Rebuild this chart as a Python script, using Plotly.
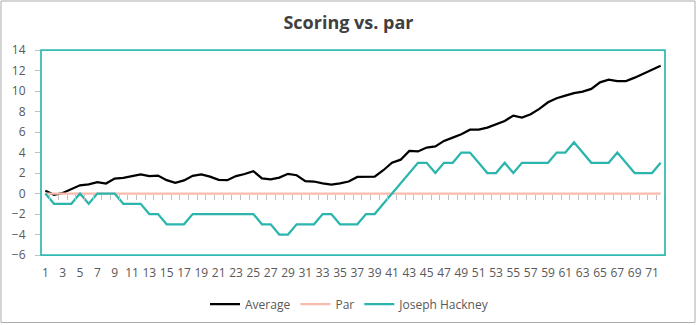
import plotly.graph_objects as go

holes = list(range(1, 73))
average = [0.26, -0.12, 0.05, 0.42, 0.8, 0.9, 1.1, 0.97, 1.45, 1.53,
           1.67, 1.87, 1.7, 1.75, 1.3, 1.05, 1.28, 1.72, 1.86, 1.65,
           1.33, 1.3, 1.7, 1.9, 2.18, 1.47, 1.38, 1.55, 1.92, 1.78,
           1.2, 1.17, 0.98, 0.87, 0.98, 1.17, 1.62, 1.65, 1.65, 2.27,
           3.0, 3.3, 4.15, 4.1, 4.48, 4.6, 5.13, 5.45, 5.78, 6.23,
           6.23, 6.43, 6.75, 7.08, 7.6, 7.4, 7.73, 8.25, 8.9, 9.29,
           9.55, 9.8, 9.94, 10.2, 10.84, 11.1, 10.97, 10.97, 11.3, 11.7,
           12.14, 12.47]
par = [0] * 72
joseph = [0, -1, -1, -1, 0, -1, 0, 0, 0, -1,
          -1, -1, -2, -2, -3, -3, -3, -2, -2, -2,
          -2, -2, -2, -2, -2, -3, -3, -4, -4, -3,
          -3, -3, -2, -2, -3, -3, -3, -2, -2, -1,
          0, 1, 2, 3, 3, 2, 3, 3, 4, 4,
          3, 2, 2, 3, 2, 3, 3, 3, 3, 4,
          4, 5, 4, 3, 3, 3, 4, 3, 2, 2,
          2, 3]
y_ticks = list(range(-6, 15, 2))
x_labels = holes[::2]

Y_MIN, Y_MAX = -6, 14
X_MIN, X_MAX = holes[0] - 0.5, holes[-1] + 0.5
boundaries = [h - 0.5 for h in holes] + [holes[-1] + 0.5]

FONT = "Segoe UI, Open Sans, sans-serif"
GRAY = "#595959"

fig = go.Figure()
fig.add_trace(go.Scatter(x=holes, y=average, name="Average", mode="lines",
                         line=dict(color="#000000", width=2.25)))
fig.add_trace(go.Scatter(x=holes, y=par, name="Par", mode="lines",
                         line=dict(color="#F7BCAE", width=2.25)))
fig.add_trace(go.Scatter(x=holes, y=joseph, name="Joseph Hackney", mode="lines",
                         line=dict(color="#2BB5AD", width=2.25)))
# invisible trace for the label axis
fig.add_trace(go.Scatter(x=holes, y=par, xaxis="x2", mode="lines",
                         line=dict(width=0), showlegend=False, hoverinfo="skip"))

fig.update_layout(
    width=697, height=325,
    margin=dict(l=41, r=32, t=50, b=70, autoexpand=False),
    paper_bgcolor="white", plot_bgcolor="white",
    font=dict(family=FONT, size=12, color=GRAY),
    title=dict(text="<b>Scoring vs. par</b>", x=0.5, xanchor="center",
               y=1 - 23 / 325, yanchor="middle", yref="container",
               font=dict(family=FONT, size=18, color="#404040")),
    xaxis=dict(range=[X_MIN, X_MAX], anchor="free",
               position=(0 - Y_MIN) / (Y_MAX - Y_MIN),
               tickmode="array", tickvals=boundaries, showticklabels=False,
               ticks="outside", ticklen=5, tickcolor="#BFBFBF", tickwidth=1,
               showgrid=False, zeroline=False, showline=False),
    xaxis2=dict(range=[X_MIN, X_MAX], overlaying="x", anchor="y", side="bottom",
                tickmode="array", tickvals=x_labels,
                ticktext=[str(v) for v in x_labels], tickangle=0,
                ticks="", showgrid=False, zeroline=False, showline=False,
                tickfont=dict(size=12, color=GRAY), ticklabelstandoff=9),
    yaxis=dict(range=[Y_MIN, Y_MAX], tickmode="array", tickvals=y_ticks,
               ticks="outside", ticklen=5, tickcolor="#BFBFBF",
               showgrid=False, zeroline=False, showline=False,
               tickfont=dict(size=12, color=GRAY), ticklabelstandoff=7),
    legend=dict(orientation="h", xref="container", x=350 / 697, xanchor="center",
                yref="container", y=1 - 304 / 325, yanchor="middle",
                font=dict(size=12, color=GRAY), bgcolor="rgba(0,0,0,0)"),
    showlegend=True,
)

# plot-area border (teal) and chart-area border (gray)
fig.add_shape(type="rect", xref="paper", yref="paper", x0=0, x1=1, y0=0, y1=1,
              line=dict(color="#33BBB3", width=1.75), layer="above")
fig.add_shape(type="rect", xref="paper", yref="paper",
              x0=(1 - 41) / 624, x1=(695 - 41) / 624,
              y0=(255 - 322.5) / 205, y1=(255 - 1) / 205,
              line=dict(color="#ABABAB", width=1), layer="below")

fig.write_html("out.html")
